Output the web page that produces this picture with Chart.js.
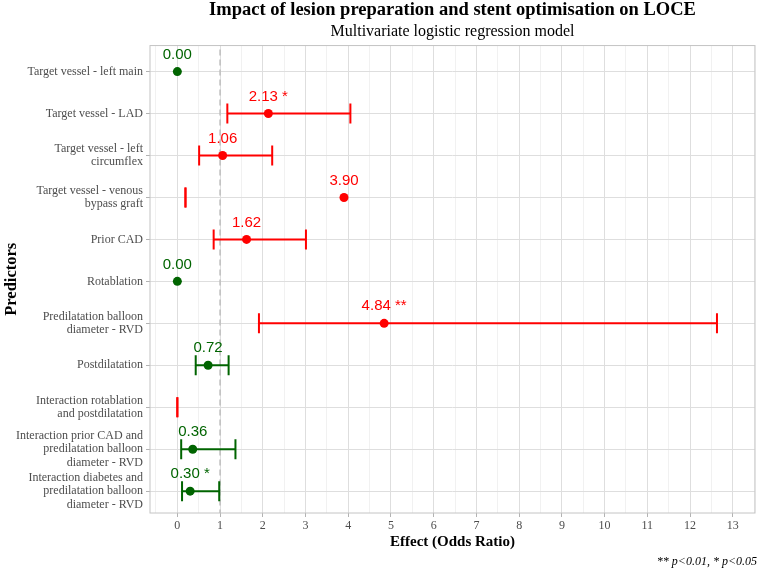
<!DOCTYPE html>
<html>
<head>
<meta charset="utf-8">
<script src="https://cdn.jsdelivr.net/npm/chart.js@4.4.1/dist/chart.umd.min.js"></script>
<style>
  body { margin: 0; background: #fff; }
</style>
</head>
<body>
<canvas id="forest" width="762" height="568"></canvas>
<script>
// predictors, top to bottom
const predictors = [
  ['Target vessel - left main'],
  ['Target vessel - LAD'],
  ['Target vessel - left', 'circumflex'],
  ['Target vessel - venous', 'bypass graft'],
  ['Prior CAD'],
  ['Rotablation'],
  ['Predilatation balloon', 'diameter - RVD'],
  ['Postdilatation'],
  ['Interaction rotablation', 'and postdilatation'],
  ['Interaction prior CAD and', 'predilatation balloon', 'diameter - RVD'],
  ['Interaction diabetes and', 'predilatation balloon', 'diameter - RVD']
];
const oddsRatio = [0.00, 2.13, 1.06, 3.90, 1.62, 0.00, 4.84, 0.72, null, 0.36, 0.30];
const ciLower   = [null, 1.17, 0.51, 0.19, 0.85, null, 1.91, 0.43, 0.00, 0.09, 0.11];
const ciUpper   = [null, 4.05, 2.22, 0.19, 3.01, null, 12.63, 1.20, 0.00, 1.36, 0.98];
const signif    = ['', '*', '', '', '', '', '**', '', '', '', '*'];
const xTicks = [0, 1, 2, 3, 4, 5, 6, 7, 8, 9, 10, 11, 12, 13];

const RED = '#FF0000';
const GREEN = '#006400';
const serif = "'Liberation Serif', 'Times New Roman', serif";

function effectColor(i) {
  const v = oddsRatio[i];
  return (v === null || v > 1) ? RED : GREEN;
}

const rowOf = i => i + 1;

// point estimates
const datasets = [{
  data: oddsRatio.map((v, i) => v === null ? null : { x: v, y: rowOf(i) }).filter(d => d),
  pointBackgroundColor: oddsRatio.map((v, i) => effectColor(i)).filter((c, i) => oddsRatio[i] !== null),
  pointBorderWidth: 0,
  pointRadius: 4.5,
  showLine: false
}];

// confidence intervals with caps
// (end points doubled with radius 0 so chart.js doesn't pad the layout for the caps)
predictors.forEach((p, i) => {
  if (ciLower[i] === null) return;
  const c = effectColor(i);
  const lo = { x: ciLower[i], y: rowOf(i) };
  const hi = { x: ciUpper[i], y: rowOf(i) };
  datasets.push({
    data: [lo, lo, hi, hi],
    showLine: true,
    borderColor: c,
    borderWidth: 2,
    pointStyle: 'line',
    rotation: 90,
    pointRadius: [0, 10, 10, 0],
    pointBorderColor: c,
    pointBorderWidth: 2
  });
});

// reference line at OR = 1
datasets.push({
  data: [{ x: 1, y: 0 }, { x: 1, y: 12 }],
  showLine: true,
  borderColor: '#BDBDBD',
  borderWidth: 1.5,
  borderDash: [6, 4],
  pointRadius: 0
});

const panelBorder = {
  id: 'panelBorder',
  beforeDatasetsDraw(chart) {
    const { ctx, chartArea: a } = chart;
    ctx.save();
    ctx.strokeStyle = '#C4C4C4';
    ctx.lineWidth = 1;
    ctx.strokeRect(a.left, a.top, a.right - a.left, a.bottom - a.top);
    ctx.restore();
  }
};

const valueLabels = {
  id: 'valueLabels',
  afterDatasetsDraw(chart) {
    const { ctx, scales: { x, y } } = chart;
    ctx.save();
    ctx.font = "15px 'Liberation Sans', Arial, sans-serif";
    ctx.textAlign = 'center';
    ctx.textBaseline = 'middle';
    oddsRatio.forEach((v, i) => {
      if (v === null) return;
      ctx.fillStyle = effectColor(i);
      const txt = v.toFixed(2) + (signif[i] ? ' ' + signif[i] : '');
      ctx.fillText(txt, x.getPixelForValue(v), y.getPixelForValue(rowOf(i)) - 17);
    });
    // caption
    ctx.font = 'italic 12px ' + serif;
    ctx.fillStyle = '#000';
    ctx.textAlign = 'right';
    ctx.textBaseline = 'alphabetic';
    ctx.fillText('** p<0.01, * p<0.05', chart.chartArea.right + 2, 565);
    ctx.restore();
  }
};

new Chart(document.getElementById('forest'), {
  type: 'scatter',
  data: { datasets },
  plugins: [panelBorder, valueLabels],
  options: {
    responsive: false,
    animation: false,
    events: [],
    layout: { padding: { top: 0, left: 0, right: 7, bottom: 17 } },
    plugins: {
      legend: { display: false },
      tooltip: { enabled: false },
      title: {
        display: true,
        fullSize: false,
        text: 'Impact of lesion preparation and stent optimisation on LOCE',
        color: '#000',
        font: { family: serif, size: 18.5, weight: 'bold', lineHeight: 1.1 },
        padding: { top: 0, bottom: 2 }
      },
      subtitle: {
        display: true,
        fullSize: false,
        text: 'Multivariate logistic regression model',
        color: '#000',
        font: { family: serif, size: 16, lineHeight: 1.2 },
        padding: { top: 0, bottom: 4 }
      }
    },
    scales: {
      x: {
        type: 'linear',
        min: -0.64,
        max: 13.52,
        afterBuildTicks(scale) {
          const t = [];
          xTicks.forEach(v => { t.push({ value: v - 0.5 }); t.push({ value: v }); });
          t.push({ value: 13.5 });
          scale.ticks = t;
        },
        afterFit(scale) {
          scale.height = 38;
          scale.paddingLeft = 0;
          scale.paddingRight = 0;
        },
        ticks: {
          autoSkip: false,
          maxRotation: 0,
          padding: 2,
          color: '#4D4D4D',
          font: { family: serif, size: 12 },
          callback: v => xTicks.includes(v) ? String(v) : ''
        },
        grid: {
          color: c => Number.isInteger(c.tick.value) ? '#DEDEDE' : '#EBEBEB',
          lineWidth: c => Number.isInteger(c.tick.value) ? 1 : 0.7,
          tickColor: c => Number.isInteger(c.tick.value) ? '#B3B3B3' : 'rgba(0,0,0,0)',
          tickLength: 4
        },
        border: { display: false },
        title: {
          display: true,
          text: 'Effect (Odds Ratio)',
          color: '#000',
          font: { family: serif, size: 15, weight: 'bold', lineHeight: 1.2 },
          padding: { top: 0, bottom: 0 }
        }
      },
      y: {
        type: 'linear',
        reverse: true,
        min: 0.38,
        max: 11.52,
        afterBuildTicks(scale) {
          scale.ticks = predictors.map((p, i) => ({ value: rowOf(i) }));
        },
        afterFit(scale) {
          scale.width = 150;
          scale.paddingTop = 0;
          scale.paddingBottom = 0;
        },
        ticks: {
          autoSkip: false,
          padding: 3,
          color: '#4D4D4D',
          font: { family: serif, size: 12, lineHeight: 1.1 },
          callback: v => predictors[v - 1]
        },
        grid: {
          color: '#DEDEDE',
          lineWidth: 1,
          tickColor: '#B3B3B3',
          tickLength: 4
        },
        border: { display: false },
        title: {
          display: true,
          text: 'Predictors',
          color: '#000',
          font: { family: serif, size: 16.5, weight: 'bold', lineHeight: 1.2 },
          padding: { top: 2, bottom: 0 }
        }
      }
    }
  }
});
</script>
</body>
</html>
